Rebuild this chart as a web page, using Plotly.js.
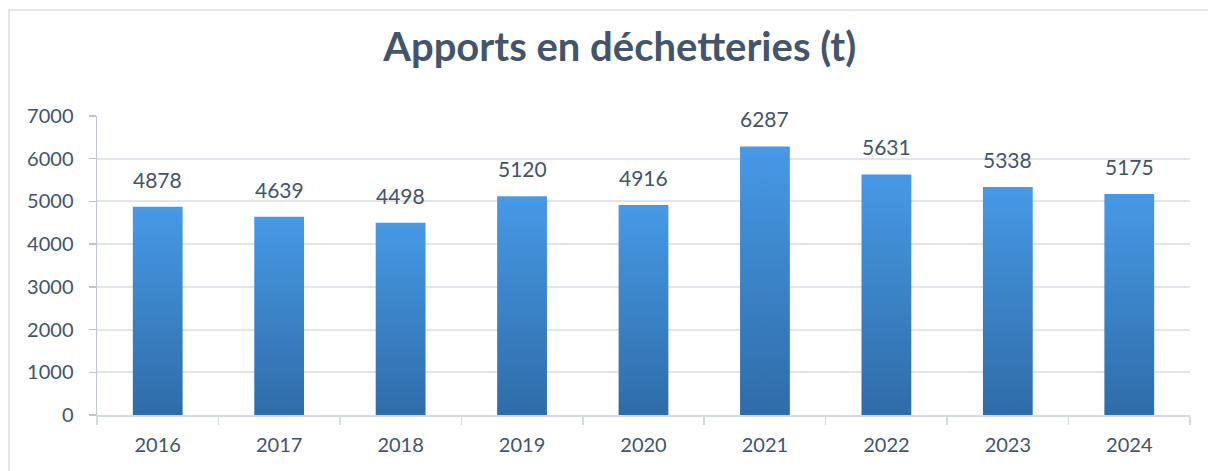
<!DOCTYPE html>
<html>
<head>
<meta charset="utf-8">
<script src="https://cdn.plot.ly/plotly-3.0.1.min.js"></script>
<style>
html,body{margin:0;padding:0;background:#fff;}
#chart{width:1208px;height:471px;}
</style>
</head>
<body>
<div id="chart"></div>
<script>
const years = ["2016","2017","2018","2019","2020","2021","2022","2023","2024"];
const tonnages = [4878, 4639, 4498, 5120, 4916, 6287, 5631, 5338, 5175];
const yTicks = [0,1000,2000,3000,4000,5000,6000,7000];

const textColor = '#44546A';
const fontFam = 'Lato, "Open Sans", sans-serif';

const trace = {
  type: 'bar',
  x: years,
  y: tonnages,
  marker: {color: '#3D86D0', line: {width: 0}},
  hoverinfo: 'none'
};

const annotations = years.map((yr, i) => ({
  x: i, y: tonnages[i], xref: 'x', yref: 'y',
  text: String(tonnages[i]), showarrow: false,
  yanchor: 'bottom', yshift: 13,
  font: {family: fontFam, size: 21, color: textColor}
}));

const layout = {
  width: 1208, height: 471,
  margin: {l: 97, r: 18, t: 116, b: 56},
  paper_bgcolor: '#ffffff', plot_bgcolor: '#ffffff',
  title: {
    text: '<b>Apports en déchetteries (t)</b>',
    x: 0.513, xanchor: 'center', y: 0.9, yanchor: 'middle',
    font: {family: fontFam, size: 40, color: textColor}
  },
  bargap: 0.59,
  showlegend: false,
  xaxis: {
    type: 'category',
    range: [-0.5, years.length - 0.5],
    tickson: 'boundaries',
    ticks: 'outside', ticklen: 8, tickcolor: '#D5DAE3', tickwidth: 1.5,
    showline: true, linecolor: '#D5DAE3', linewidth: 2,
    showgrid: false, zeroline: false,
    tickfont: {family: fontFam, size: 20, color: textColor},
    ticklabelstandoff: 11
  },
  yaxis: {
    range: [0, 7000],
    tickvals: yTicks,
    ticks: 'outside', ticklen: 7, tickcolor: '#BFC6D2', tickwidth: 1.5,
    showline: true, linecolor: '#BFC6D2', linewidth: 1.5,
    showgrid: true, gridcolor: '#E2E5EC', gridwidth: 2,
    zeroline: false,
    tickfont: {family: fontFam, size: 20, color: textColor},
    ticklabelstandoff: 11
  },
  annotations: annotations,
  shapes: [{
    type: 'rect', xref: 'paper', yref: 'paper', layer: 'below',
    x0: -0.0805, x1: 1.05, y0: -0.3, y1: 1.3545,
    line: {color: '#DCDEE6', width: 1.5}, fillcolor: 'rgba(0,0,0,0)'
  }]
};

Plotly.newPlot('chart', [trace], layout, {displayModeBar: false, staticPlot: true}).then(gd => {
  const svg = gd.querySelector('svg.main-svg');
  const ns = 'http://www.w3.org/2000/svg';
  let defs = svg.querySelector('defs');
  if (!defs) { defs = document.createElementNS(ns, 'defs'); svg.insertBefore(defs, svg.firstChild); }
  const grad = document.createElementNS(ns, 'linearGradient');
  grad.setAttribute('id', 'barGrad');
  grad.setAttribute('x1', '0'); grad.setAttribute('y1', '0');
  grad.setAttribute('x2', '0'); grad.setAttribute('y2', '1');
  [['0%', '#4799E6'], ['100%', '#2F6CA8']].forEach(([o, c]) => {
    const s = document.createElementNS(ns, 'stop');
    s.setAttribute('offset', o); s.setAttribute('stop-color', c);
    grad.appendChild(s);
  });
  defs.appendChild(grad);
  gd.querySelectorAll('.bars .point path').forEach(p => {
    p.style.fill = 'url(#barGrad)';
  });
});
</script>
</body>
</html>
